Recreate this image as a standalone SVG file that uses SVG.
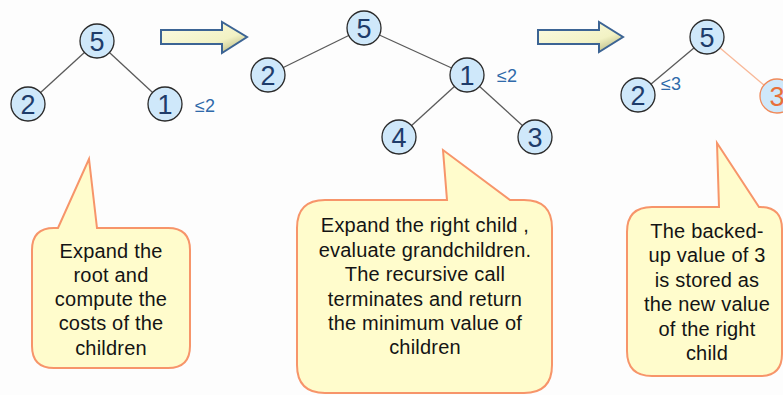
<svg xmlns="http://www.w3.org/2000/svg" width="783" height="395" viewBox="0 0 783 395">
  <defs>
    <linearGradient id="arrowFill" x1="0" y1="0" x2="1" y2="1">
      <stop offset="0" stop-color="#fcfce4"/>
      <stop offset="0.65" stop-color="#f2f2c4"/>
      <stop offset="1" stop-color="#a8a870"/>
    </linearGradient>
  </defs>
  <style>
    .edge { stroke: #5a5a5a; stroke-width: 1.3; fill: none; }
    .edge-hot { stroke: #f8b898; stroke-width: 1.3; fill: none; }
    .node circle { fill: #cfe8fa; stroke: #2a2a2a; stroke-width: 1.3; }
    .node text { font-family: "Liberation Sans", Arial, sans-serif; font-size: 27px; fill: #1e3c6a; text-anchor: middle; }
    .node.hot circle { stroke: #f08a5a; }
    .node.hot text { fill: #e8703a; }
    .bound { font-family: "Liberation Sans", Arial, sans-serif; font-size: 18px; fill: #2f6aaa; }
    .arrow { fill: url(#arrowFill); stroke: #3c6494; stroke-width: 2; stroke-linejoin: miter; }
    .callout path { fill: #fffccc; stroke: #f7956a; stroke-width: 2; }
    .callout text { font-family: "Liberation Sans", Arial, sans-serif; font-size: 20px; letter-spacing: 0.2px; fill: #141414; text-anchor: middle; }
  </style>

  <rect width="783" height="395" fill="#fdfdfd"/>

  <!-- connectors -->
  <g id="connectors">
    <line class="edge" x1="97" y1="41" x2="28" y2="104"/>
    <line class="edge" x1="97" y1="41" x2="165" y2="104"/>
    <line class="edge" x1="364" y1="28" x2="268" y2="75"/>
    <line class="edge" x1="364" y1="28" x2="467" y2="75"/>
    <line class="edge" x1="467" y1="75" x2="399" y2="137"/>
    <line class="edge" x1="467" y1="75" x2="535" y2="137"/>
    <line class="edge" x1="707" y1="37" x2="638" y2="95"/>
    <line class="edge-hot" x1="707" y1="37" x2="777" y2="96"/>
    <path id="arrow1" class="arrow" d="M161,30 L222,30 L222,22 L247,37 L222,53 L222,44 L161,44 Z"/>
    <path id="arrow2" class="arrow" d="M538,30 L599,30 L599,22 L623,37 L599,52 L599,44 L538,44 Z"/>
  </g>

  <!-- step 1: root expanded -->
  <g id="s1-root" class="node"><circle cx="97" cy="41" r="17"/><text x="97" y="50.5">5</text></g>
  <g id="s1-left" class="node"><circle cx="28" cy="104" r="17"/><text x="28" y="113.5">2</text></g>
  <g id="s1-right" class="node"><circle cx="165" cy="104" r="17"/><text x="165" y="113.5">1</text></g>
  <g id="s1-bound"><text class="bound" x="195" y="112">≤2</text></g>

  <!-- step 2: right child expanded -->
  <g id="s2-root" class="node"><circle cx="364" cy="28" r="17"/><text x="364" y="37.5">5</text></g>
  <g id="s2-left" class="node"><circle cx="268" cy="75" r="17"/><text x="268" y="84.5">2</text></g>
  <g id="s2-right" class="node"><circle cx="467" cy="75" r="17"/><text x="467" y="84.5">1</text></g>
  <g id="s2-bound"><text class="bound" x="497" y="82">≤2</text></g>
  <g id="s2-gc-left" class="node"><circle cx="399" cy="137" r="17"/><text x="399" y="146.5">4</text></g>
  <g id="s2-gc-right" class="node"><circle cx="535" cy="137" r="17"/><text x="535" y="146.5">3</text></g>

  <!-- step 3: backed-up value stored -->
  <g id="s3-root" class="node"><circle cx="707" cy="37" r="17"/><text x="707" y="46.5">5</text></g>
  <g id="s3-left" class="node"><circle cx="638" cy="95" r="17"/><text x="638" y="104.5">2</text></g>
  <g id="s3-bound"><text class="bound" x="661" y="90">≤3</text></g>
  <g id="s3-right" class="node hot"><circle cx="777" cy="96" r="17"/><text x="777" y="105.5">3</text></g>

  <!-- callouts -->
  <g id="callout1" class="callout">
    <path d="M54,228 L58,228 L89,159 L97,228 L168,228 Q190,228 190,250 L190,346 Q190,368 168,368 L54,368 Q32,368 32,346 L32,250 Q32,228 54,228 Z"/>
    <text x="111" y="258">Expand the</text>
    <text x="111" y="282">root and</text>
    <text x="111" y="306">compute  the</text>
    <text x="111" y="330">costs of the</text>
    <text x="111" y="355">children</text>
  </g>
  <g id="callout2" class="callout">
    <path d="M325,200 L447,200 L443,150 L510,200 L524,200 Q552,200 552,228 L552,365 Q552,393 524,393 L325,393 Q297,393 297,365 L297,228 Q297,200 325,200 Z"/>
    <text x="425" y="232">Expand the right child ,</text>
    <text x="425" y="257">evaluate grandchildren.</text>
    <text x="425" y="281">The recursive call</text>
    <text x="425" y="306">terminates and return</text>
    <text x="425" y="330">the minimum value of</text>
    <text x="425" y="354">children</text>
  </g>
  <g id="callout3" class="callout">
    <path d="M652,207 L719,207 L717,143 L759,207 L760,207 Q782,207 782,229 L782,354 Q782,376 760,376 L652,376 Q627,376 627,351 L627,232 Q627,207 652,207 Z"/>
    <text x="707" y="238">The backed-</text>
    <text x="707" y="262">up value of 3</text>
    <text x="707" y="287">is stored as</text>
    <text x="707" y="311">the new value</text>
    <text x="707" y="336">of the right</text>
    <text x="707" y="360">child</text>
  </g>
</svg>
